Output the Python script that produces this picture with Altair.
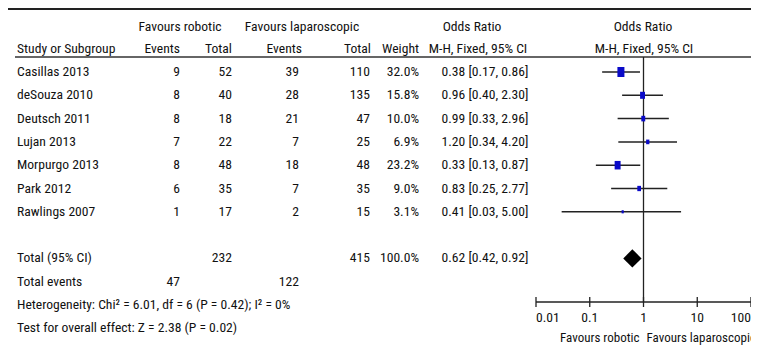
import altair as alt
import pandas as pd

# ---------------- data ----------------
studies = ["Casillas 2013", "deSouza 2010", "Deutsch 2011", "Lujan 2013",
           "Morpurgo 2013", "Park 2012", "Rawlings 2007"]
rob_events = [9, 8, 8, 7, 8, 6, 1]
rob_total = [52, 40, 18, 22, 48, 35, 17]
lap_events = [39, 28, 21, 7, 18, 7, 2]
lap_total = [110, 135, 47, 25, 48, 35, 15]
weights = [32.0, 15.8, 10.0, 6.9, 23.2, 9.0, 3.1]
or_est = [0.38, 0.96, 0.99, 1.20, 0.33, 0.83, 0.41]
or_lo = [0.17, 0.40, 0.33, 0.34, 0.13, 0.25, 0.03]
or_hi = [0.86, 2.30, 2.96, 4.20, 0.87, 2.77, 5.00]

total_rob = 232
total_lap = 415
total_weight = 100.0
total_or = [0.42, 0.62, 0.92]  # lo, est, hi
total_events_rob = 47
total_events_lap = 122
het_text = "Heterogeneity: Chi\u00b2 = 6.01, df = 6 (P = 0.42); I\u00b2 = 0%"
test_text = "Test for overall effect: Z = 2.38 (P = 0.02)"

tick_values = [0.01, 0.1, 1, 10, 100]
tick_labels = ["0.01", "0.1", "1", "10", "100"]

# ---------------- tables ----------------
n = len(studies)
ROW_TOTAL, ROW_EVENTS, ROW_HET, ROW_TEST = n + 1, n + 2, n + 3, n + 4

fmt_or = lambda e, l, h: f"{e:.2f} [{l:.2f}, {h:.2f}]"
table = pd.DataFrame({
    "row": list(range(n)) + [ROW_TOTAL, ROW_EVENTS, ROW_HET, ROW_TEST],
    "study": studies + ["Total (95% CI)", "Total events", het_text, test_text],
    "re": [str(v) for v in rob_events] + ["", str(total_events_rob), "", ""],
    "rt": [str(v) for v in rob_total] + [str(total_rob), "", "", ""],
    "le": [str(v) for v in lap_events] + ["", str(total_events_lap), "", ""],
    "lt": [str(v) for v in lap_total] + [str(total_lap), "", "", ""],
    "w": [f"{v:.1f}%" for v in weights] + [f"{total_weight:.1f}%", "", "", ""],
    "ort": [fmt_or(e, l, h) for e, l, h in zip(or_est, or_lo, or_hi)]
           + [fmt_or(total_or[1], total_or[0], total_or[2]), "", "", ""],
})

forest = pd.DataFrame({"row": list(range(n)), "est": or_est, "lo": or_lo,
                       "hi": or_hi, "w": weights})

DH = 0.39  # diamond half height in row units (style)
diamond = pd.DataFrame({
    "x": total_or,
    "y": [ROW_TOTAL, ROW_TOTAL - DH, ROW_TOTAL],
    "y2": [ROW_TOTAL, ROW_TOTAL + DH, ROW_TOTAL],
})

ticks = pd.DataFrame({"v": tick_values, "lab": tick_labels,
                      "pos": ["first", "mid", "mid", "mid", "last"]})
one = pd.DataFrame({"a": [0]})

# ---------------- styles ----------------
FONT = "Liberation Sans Narrow, Arial Narrow, Roboto Condensed, DejaVu Sans Condensed, sans-serif"
FS = 13.6
FS_FOOT = 13
TXT = "#111111"
W, H = 743, 340

ysc = alt.Scale(domain=[0, 11], range=[64, 64 + 23.3 * 11])
xsc = alt.Scale(type="log", domain=[0.01, 100], range=[528, 743])
Y = alt.Y("row:Q", scale=ysc, axis=None)


def col(field, x, align):
    return alt.Chart(table).mark_text(
        font=FONT, fontSize=FS, color=TXT, align=align, baseline="middle"
    ).encode(x=alt.value(x), y=Y, text=f"{field}:N")


def label(text, x, y, align="center", baseline="alphabetic"):
    return alt.Chart(one).mark_text(
        text=text, font=FONT, fontSize=FS, color=TXT, align=align, baseline=baseline
    ).encode(x=alt.value(x), y=alt.value(y))


layers = []
# top border and header underline
layers.append(alt.Chart(one).mark_rule(color="#222222", strokeWidth=2).encode(
    x=alt.value(0), x2=alt.value(W), y=alt.value(1)))
layers.append(alt.Chart(one).mark_rule(color="#333333", strokeWidth=1.3).encode(
    x=alt.value(7), x2=alt.value(W), y=alt.value(49)))

# headers
layers += [
    label("Favours robotic", 172, 23),
    label("Favours laparoscopic", 294, 23),
    label("Odds Ratio", 464, 23),
    label("Odds Ratio", 635, 23),
    label("Study or Subgroup", 9, 45, align="left"),
    label("Events", 172, 45, align="right"),
    label("Total", 224, 45, align="right"),
    label("Events", 294, 45, align="right"),
    label("Total", 363, 45, align="right"),
    label("Weight", 411, 45, align="right"),
    label("M-H, Fixed, 95% CI", 470, 45),
    label("M-H, Fixed, 95% CI", 636, 45),
]

# table columns
layers += [
    col("study", 9, "left"),
    col("re", 172, "right"),
    col("rt", 224, "right"),
    col("le", 291, "right"),
    col("lt", 362, "right"),
    col("w", 411, "right"),
    col("ort", 477, "center"),
]

# reference line at OR = 1
layers.append(alt.Chart(one).mark_rule(color="#222222", strokeWidth=1.3).encode(
    x=alt.datum(1, scale=xsc, axis=None), y=alt.value(49), y2=alt.value(294)))

# confidence intervals
layers.append(alt.Chart(forest).mark_rule(color="#222222", strokeWidth=1.5).encode(
    x=alt.X("lo:Q", scale=xsc, axis=None), x2="hi:Q", y=Y))

# weighted squares (slightly taller than wide, like the source image)
layers.append(alt.Chart(forest).mark_point(
    shape="M-0.7,-1L0.7,-1L0.7,1L-0.7,1Z", filled=True, color="#0a0ac8",
    opacity=1, strokeWidth=0
).encode(
    x=alt.X("est:Q", scale=xsc, axis=None), y=Y,
    size=alt.Size("w:Q", scale=alt.Scale(domain=[0, 32], range=[0, 100]), legend=None),
))

# pooled diamond
layers.append(alt.Chart(diamond).mark_area(color="#000000", opacity=1, orient="vertical").encode(
    x=alt.X("x:Q", scale=xsc, axis=None),
    y=alt.Y("y:Q", scale=ysc, axis=None), y2="y2:Q"))

# axis
layers.append(alt.Chart(one).mark_rule(color="#222222", strokeWidth=1.3).encode(
    x=alt.datum(0.01, scale=xsc, axis=None), x2=alt.datum(100), y=alt.value(294)))
layers.append(alt.Chart(ticks).mark_rule(color="#222222", strokeWidth=1.3).encode(
    x=alt.X("v:Q", scale=xsc, axis=None), y=alt.value(289), y2=alt.value(299)))
for pos, align in [("first", "left"), ("mid", "center"), ("last", "right")]:
    layers.append(alt.Chart(ticks).transform_filter(alt.datum.pos == pos).mark_text(
        font=FONT, fontSize=FS, color=TXT, align=align, baseline="middle"
    ).encode(x=alt.X("v:Q", scale=xsc, axis=None), y=alt.value(310), text="lab:N"))

# favours labels under axis
layers.append(alt.Chart(one).mark_text(
    text="Favours robotic", font=FONT, fontSize=FS_FOOT, color=TXT, align="right",
    baseline="middle", dx=-4).encode(x=alt.datum(1, scale=xsc, axis=None), y=alt.value(330)))
layers.append(alt.Chart(one).mark_text(
    text="Favours laparoscopic", font=FONT, fontSize=FS_FOOT, color=TXT, align="left",
    baseline="middle", dx=3).encode(x=alt.datum(1, scale=xsc, axis=None), y=alt.value(330)))

chart = alt.layer(*layers).properties(
    width=W, height=H, autosize=alt.AutoSizeParams(type="none"), padding=0,
    background="white",
).configure_view(stroke=None)

chart.save("out.html", embed_options={"renderer": "svg", "actions": False})
